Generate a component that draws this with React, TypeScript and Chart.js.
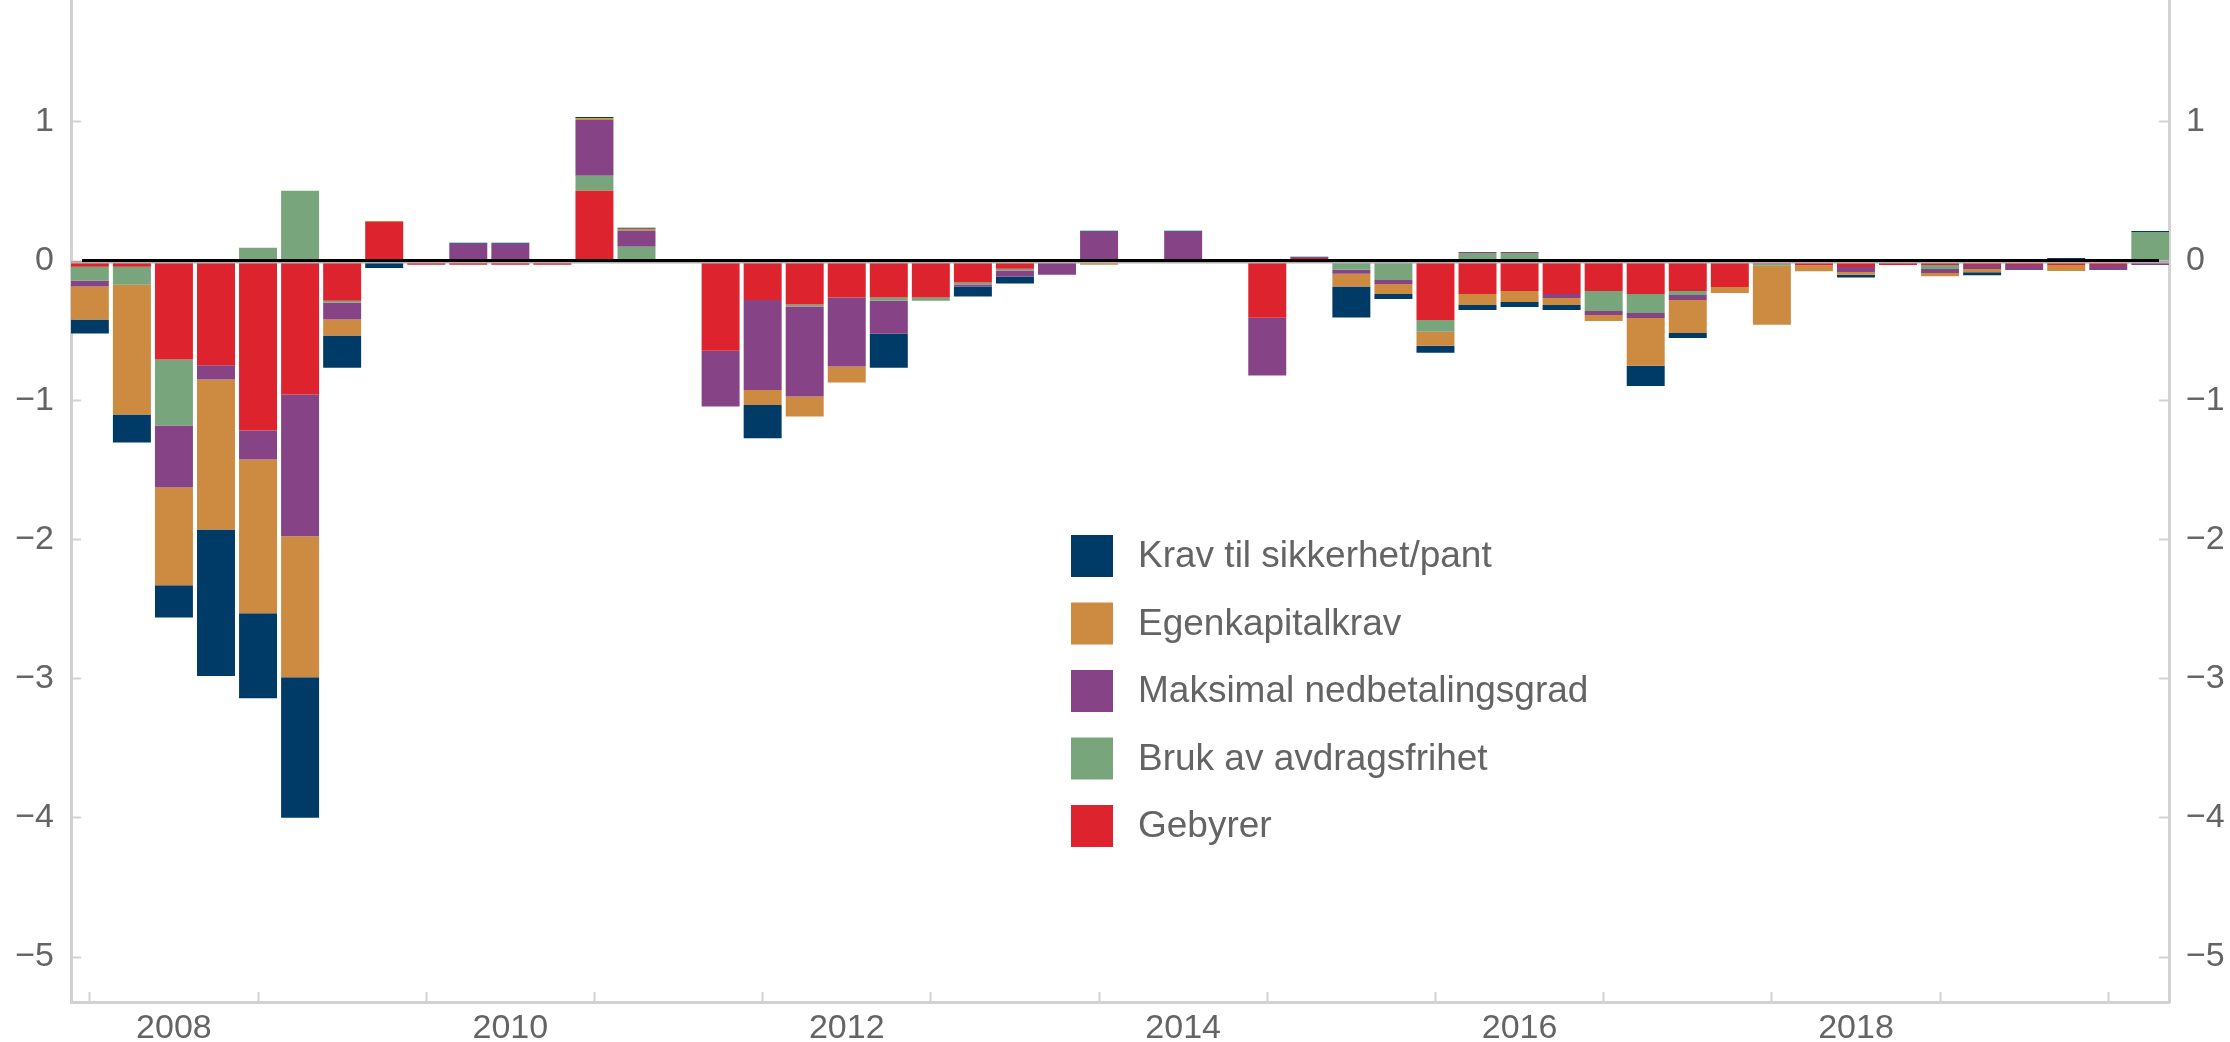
import React, { useEffect, useRef } from 'react';
import { Chart, registerables } from 'chart.js';

Chart.register(...registerables);

// Quarterly survey periods (bar placed at end of quarter)
const quarters = [
  '2007 K4',
  '2008 K1', '2008 K2', '2008 K3', '2008 K4',
  '2009 K1', '2009 K2', '2009 K3', '2009 K4',
  '2010 K1', '2010 K2', '2010 K3', '2010 K4',
  '2011 K1', '2011 K2', '2011 K3', '2011 K4',
  '2012 K1', '2012 K2', '2012 K3', '2012 K4',
  '2013 K1', '2013 K2', '2013 K3', '2013 K4',
  '2014 K1', '2014 K2', '2014 K3', '2014 K4',
  '2015 K1', '2015 K2', '2015 K3', '2015 K4',
  '2016 K1', '2016 K2', '2016 K3', '2016 K4',
  '2017 K1', '2017 K2', '2017 K3', '2017 K4',
  '2018 K1', '2018 K2', '2018 K3', '2018 K4',
  '2019 K1', '2019 K2', '2019 K3', '2019 K4',
  '2020 K1',
];

const kravSikkerhet = [
  -0.10, -0.201, -0.23, -1.053, -0.61, -1.01, -0.23, -0.05, 0, 0.007,
  0.007, 0, 0.01, 0.007, 0, 0, -0.24, 0, 0, -0.244,
  0, -0.072, -0.05, 0, 0.007, 0, 0.007, 0, 0, 0.007,
  -0.222, -0.036, -0.05, -0.036, -0.036, -0.036, 0, -0.144, -0.036, 0,
  0, 0, -0.02, 0, 0, -0.022, 0, 0.022, 0, 0.007,
];

const egenkapitalkrav = [
  -0.237, -0.933, -0.703, -1.077, -1.105, -1.012, -0.115, 0.007, 0, 0,
  0, 0, 0.012, 0.014, 0, 0, -0.108, -0.144, -0.115, 0,
  0, 0, 0, 0, -0.026, 0, 0, 0, 0, 0,
  -0.093, -0.072, -0.10, -0.079, -0.079, -0.05, -0.043, -0.344, -0.237, -0.043,
  -0.423, -0.043, -0.02, 0, -0.022, -0.022, 0, -0.043, 0, 0,
];

const maksNedbetaling = [
  -0.043, 0, -0.445, -0.103, -0.208, -1.019, -0.122, 0, 0, 0.124,
  0.124, 0, 0.40, 0.115, 0, -0.40, -0.646, -0.646, -0.495, -0.237,
  0, -0.014, -0.043, -0.098, 0.21, 0, 0.21, 0, -0.416, 0,
  -0.029, -0.029, 0, 0.007, 0.007, -0.029, -0.029, -0.036, -0.036, 0,
  0, 0, -0.036, 0, -0.029, -0.029, -0.036, 0, -0.036, -0.029,
];

const avdragsfrihet = [
  -0.10, -0.129, -0.474, 0, 0.096, 0.505, -0.014, 0, 0, 0,
  0, 0, 0.108, 0.103, 0, 0, 0, -0.014, 0, -0.022,
  -0.022, -0.014, -0.014, 0, 0, 0, 0, 0, 0, 0,
  -0.062, -0.136, -0.086, 0.057, 0.057, 0, -0.144, -0.136, -0.029, 0,
  -0.014, 0, 0, 0, -0.029, 0, 0, 0, 0, 0.208,
];

const gebyrer = [
  -0.041, -0.041, -0.708, -0.749, -1.218, -0.959, -0.285, 0.28, -0.026, -0.026,
  -0.026, -0.026, 0.505, 0, 0, -0.645, -0.28, -0.313, -0.263, -0.263,
  -0.263, -0.155, -0.055, 0, 0, 0, 0, 0, -0.407, 0.024,
  0, 0, -0.423, -0.237, -0.215, -0.237, -0.215, -0.237, -0.215, -0.187,
  -0.02, -0.03, -0.043, -0.029, -0.029, -0.029, -0.029, -0.029, -0.029, 0,
];

const yTicks = [-5, -4, -3, -2, -1, 0, 1];
const yearTicks = [2008, 2009, 2010, 2011, 2012, 2013, 2014, 2015, 2016, 2017, 2018, 2019, 2020];
const yearLabels = ['2008', '2010', '2012', '2014', '2016', '2018'];

const seriesNames = [
  'Krav til sikkerhet/pant',
  'Egenkapitalkrav',
  'Maksimal nedbetalingsgrad',
  'Bruk av avdragsfrihet',
  'Gebyrer',
];
const seriesColors = ['#003B68', '#CD8B41', '#864486', '#79A57D', '#DD232E'];
const seriesValues = [kravSikkerhet, egenkapitalkrav, maksNedbetaling, avdragsfrihet, gebyrer];

const FONT = "'Liberation Sans', Arial, sans-serif";
const TEXT = '#646464';
const AXIS = '#d2d2d2';

function quarterPos(label: string): number {
  const [y, q] = label.split(' K');
  return Number(y) + Number(q) / 4;
}

function fmtY(v: number): string {
  return v < 0 ? '\u2212' + Math.abs(v) : String(v);
}

const zeroLinePlugin = {
  id: 'zeroLine',
  afterDatasetsDraw(chart: any) {
    const { ctx, chartArea } = chart;
    const y0 = chart.scales.y.getPixelForValue(0);
    ctx.save();
    ctx.fillStyle = '#b4b4b4';
    ctx.fillRect(chartArea.left, y0 + 0.5, chartArea.right - chartArea.left, 2);
    ctx.fillStyle = '#000000';
    ctx.fillRect(chartArea.left + 11, y0 - 2, chartArea.right - chartArea.left - 21, 3);
    ctx.restore();
  },
};

const legendPlugin = {
  id: 'customLegend',
  afterDraw(chart: any) {
    const { ctx } = chart;
    const x = 1071;
    const y = 535;
    const size = 42;
    const step = 67.5;
    ctx.save();
    ctx.font = `37px ${FONT}`;
    ctx.textBaseline = 'middle';
    ctx.textAlign = 'left';
    seriesNames.forEach((name, i) => {
      const top = y + i * step;
      ctx.fillStyle = seriesColors[i];
      ctx.fillRect(x, top, size, size);
      ctx.fillStyle = TEXT;
      ctx.fillText(name, x + 67, top + size / 2 + 1);
    });
    ctx.restore();
  },
};

export default function App() {
  const ref = useRef<HTMLCanvasElement | null>(null);

  useEffect(() => {
    if (!ref.current) return;
    const xs = quarters.map(quarterPos);
    // stacking order: first dataset closest to zero
    const order = [4, 3, 2, 1, 0];
    const datasets = order.map((i) => ({
      label: seriesNames[i],
      data: seriesValues[i].map((v, k) => ({ x: xs[k], y: v })),
      backgroundColor: seriesColors[i],
      borderWidth: 0,
      categoryPercentage: 1,
      barPercentage: 0.903,
      xAxisID: 'x',
      yAxisID: 'y',
    }));

    const xMin = 2007.888;
    const xMax = 2020.361;
    const yMin = -5.323;
    const yMax = 1.875;

    const yScale = (position: 'left' | 'right', width: number) => ({
      type: 'linear' as const,
      position,
      min: yMin,
      max: yMax,
      stacked: true,
      afterBuildTicks: (s: any) => {
        s.ticks = yTicks.map((v) => ({ value: v }));
      },
      afterFit: (s: any) => {
        s.width = width;
        s.paddingTop = 0;
        s.paddingBottom = 0;
      },
      grid: {
        drawOnChartArea: false,
        drawTicks: true,
        tickLength: -10,
        tickColor: AXIS,
        tickWidth: 2,
      },
      border: { display: true, color: AXIS, width: 3 },
      ticks: {
        padding: 27,
        color: TEXT,
        font: { size: 34, family: FONT },
        callback: (v: any) => fmtY(Number(v)),
      },
    });

    const chart = new Chart(ref.current, {
      type: 'bar',
      data: { datasets },
      plugins: [zeroLinePlugin, legendPlugin],
      options: {
        responsive: false,
        animation: false,
        layout: { padding: 0 },
        plugins: {
          legend: { display: false },
          tooltip: { enabled: false },
        },
        scales: {
          x: {
            type: 'linear',
            position: 'bottom',
            min: xMin,
            max: xMax,
            offset: false,
            stacked: true,
            weight: 0,
            afterBuildTicks: (s: any) => {
              s.ticks = yearTicks.map((v) => ({ value: v }));
            },
            afterFit: (s: any) => {
              s.height = 0;
              s.paddingLeft = 0;
              s.paddingRight = 0;
            },
            grid: {
              offset: false,
              drawOnChartArea: false,
              drawTicks: true,
              tickLength: -10,
              tickColor: AXIS,
              tickWidth: 2,
            },
            border: { display: true, color: AXIS, width: 3 },
            ticks: { display: false },
          },
          x2: {
            type: 'linear',
            position: 'bottom',
            min: xMin,
            max: xMax,
            offset: false,
            weight: 1,
            afterBuildTicks: (s: any) => {
              s.ticks = yearLabels.map((v) => ({ value: Number(v) + 0.5 }));
            },
            afterFit: (s: any) => {
              s.height = 40;
              s.paddingLeft = 0;
              s.paddingRight = 0;
            },
            grid: { display: false, drawTicks: false, offset: false },
            border: { display: false },
            ticks: {
              padding: 6,
              color: TEXT,
              maxRotation: 0,
              autoSkip: false,
              font: { size: 34, family: FONT },
              callback: (v: any) => String(Math.floor(Number(v))),
            },
          },
          y: yScale('left', 71),
          y2: yScale('right', 61),
        },
      },
    } as any);

    return () => chart.destroy();
  }, []);

  return (
    <div style={{ position: 'fixed', left: 0, top: 0, width: 2230, height: 1042, background: '#fff' }}>
      <canvas ref={ref} width={2230} height={1042} style={{ display: 'block' }} />
    </div>
  );
}
